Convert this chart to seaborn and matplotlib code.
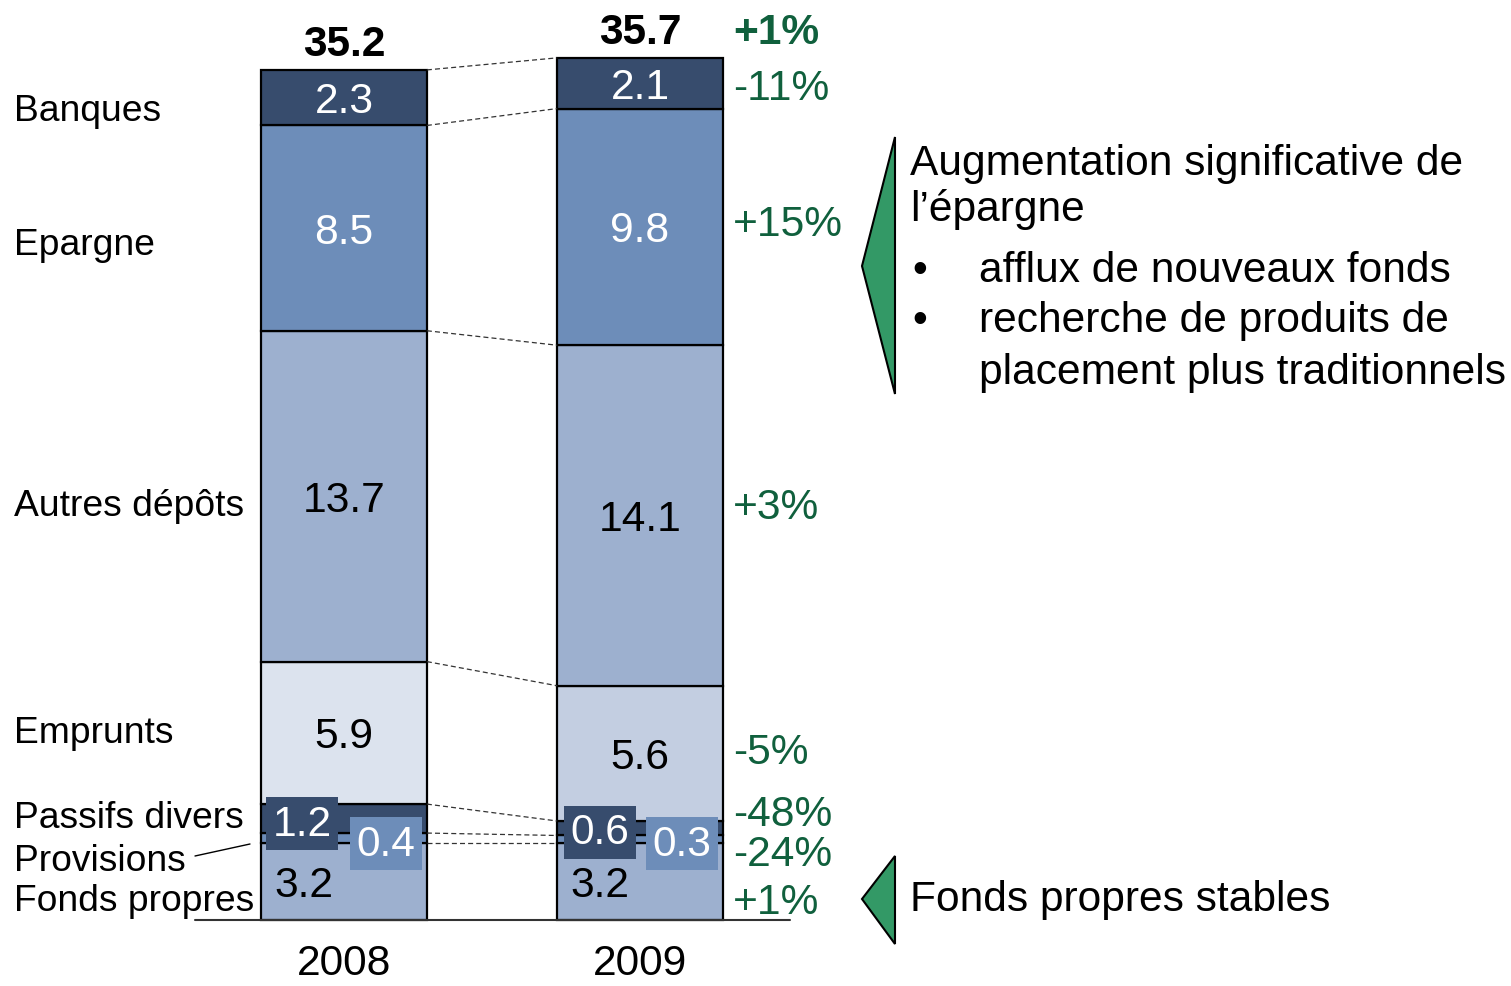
"""Stacked bar chart of liabilities structure 2008 vs 2009"""
import matplotlib
matplotlib.use('Agg')
import matplotlib.pyplot as plt
import numpy as np
import seaborn as sns

# data
years = ['2008', '2009']
categories = ['Fonds propres', 'Provisions', 'Passifs divers', 'Emprunts',
              'Autres dépôts', 'Epargne', 'Banques']
values_2008 = [3.2, 0.4, 1.2, 5.9, 13.7, 8.5, 2.3]
values_2009 = [3.2, 0.3, 0.6, 5.6, 14.1, 9.8, 2.1]
changes = ['+1%', '-24%', '-48%', '-5%', '+3%', '+15%', '-11%']
totals = [35.2, 35.7]
total_change = '+1%'

W, H = 1511, 987
PX = 24.15          # pixels per unit on the value axis
X0, DX = 344, 296   # pixel centre of first bar, pixels between bars
BASE = 921          # pixel row of the zero line
TY = 3.5            # small downward nudge for text

NAVY = '#374C6D'
MID = '#6D8DB9'
LIGHT = '#9DB0CF'
colors = {
    'Fonds propres': (LIGHT, LIGHT),
    'Provisions': (MID, MID),
    'Passifs divers': (NAVY, NAVY),
    'Emprunts': ('#DCE3EE', '#C3CEE1'),
    'Autres dépôts': (LIGHT, LIGHT),
    'Epargne': (MID, MID),
    'Banques': (NAVY, NAVY),
}
text_on = {'Banques': 'white', 'Epargne': 'white'}
GREEN_TXT = '#10603D'
GREEN_FILL = '#339966'

FONT = ['Liberation Sans', 'DejaVu Sans']
LFS = 26.8   # left labels
VFS = 30.6   # values and notes

sns.set_style('white')
plt.rcParams['font.family'] = FONT
plt.rcParams['text.color'] = 'black'


def dx(px):
    return (px - X0) / DX


def dy(py):
    return (BASE - py) / PX


fig = plt.figure(figsize=(W / 100, H / 100), dpi=100)
ax = fig.add_axes([0, 0, 1, 1])

series = [values_2008, values_2009]
cum = [np.cumsum(v) for v in series]
for j, year in enumerate(years):
    bottom = 0.0
    for i, cat in enumerate(categories):
        val = series[j][i]
        sns.barplot(x=[year], y=[val], order=years, bottom=bottom,
                    color=colors[cat][j], saturation=1, width=0.56,
                    edgecolor='black', linewidth=1.6, errorbar=None, ax=ax)
        bottom += val

ax.set_xlim(dx(0), dx(W))
ax.set_ylim(dy(H), dy(0))
ax.set_axis_off()

# dashed connectors between bars
half = 0.28
for a, b in zip(cum[0], cum[1]):
    ax.plot([half, 1 - half], [a, b], ls=(0, (4, 2.5)), lw=0.9, color='#333333')

# baseline
ax.plot([dx(195), dx(790)], [0, 0], color='#333333', lw=1.5)

nudge = TY / PX

# value labels in the big segments
for j in range(2):
    starts = cum[j] - np.array(series[j])
    for i, cat in enumerate(categories):
        if cat in ('Provisions', 'Passifs divers'):
            continue
        mid = starts[i] + series[j][i] / 2
        xo = j
        if cat == 'Fonds propres':
            xo = j - 0.135
        ax.text(xo, mid - nudge, f'{series[j][i]:.1f}', ha='center', va='center',
                fontsize=VFS, color=text_on.get(cat, 'black'))

# small values in boxes
box_pos = [(-0.142, 4.14, 1.2, NAVY), (0.142, 3.31, 0.4, MID),
           (1 - 0.135, 3.77, 0.6, NAVY), (1.142, 3.31, 0.3, MID)]
for xo, yo, v, c in box_pos:
    ax.text(xo, yo - nudge, f'{v:.1f}', ha='center', va='center', fontsize=VFS,
            color='white',
            bbox=dict(boxstyle='square,pad=0.16', fc=c, ec='none'))

# totals
for j, t in enumerate(totals):
    ax.text(j, cum[j][-1] + 1.2 - nudge, f'{t:.1f}', ha='center', va='center',
            fontsize=VFS, fontweight='bold')

# years
for j, year in enumerate(years):
    ax.text(j, dy(964), year, ha='center', va='center', fontsize=VFS)

# left category labels
left_y = {'Banques': 108, 'Epargne': 242, 'Autres dépôts': 503,
          'Emprunts': 730, 'Passifs divers': 815, 'Provisions': 858,
          'Fonds propres': 898}
for cat in categories:
    ax.text(dx(14), dy(left_y[cat] + TY), cat, ha='left', va='center',
            fontsize=LFS)
ax.plot([dx(195), dx(250)], [dy(857), dy(845)], color='black', lw=1)

# change labels
change_y = [900, 852, 812, 750, 505, 222, 85]
for lab, py in zip(changes, change_y):
    ax.text(dx(733), dy(py + TY), lab, ha='left', va='center', fontsize=VFS,
            color=GREEN_TXT)
ax.text(dx(733), dy(30 + TY), total_change, ha='left', va='center',
        fontsize=VFS, color=GREEN_TXT, fontweight='bold')

# green pointers and notes
for pts in ([(862, 267), (895, 138), (895, 395)],
            [(862, 900), (895, 857), (895, 945)]):
    tri = plt.Polygon([(x / W, 1 - y / H) for x, y in pts], closed=True,
                      fc=GREEN_FILL, ec='black', lw=1.5,
                      transform=fig.transFigure)
    fig.patches.append(tri)


def note(px, py, s):
    fig.text(px / W, 1 - (py + TY) / H, s, ha='left', va='center',
             fontsize=VFS)


note(910, 160, 'Augmentation significative de')
note(910, 206, 'l\u2019épargne')
note(912, 267, '\u2022')
note(979, 267, 'afflux de nouveaux fonds')
note(912, 318, '\u2022')
note(979, 318, 'recherche de produits de')
note(979, 370, 'placement plus traditionnels')
note(910, 897, 'Fonds propres stables')

fig.savefig('out.png', dpi=100)
